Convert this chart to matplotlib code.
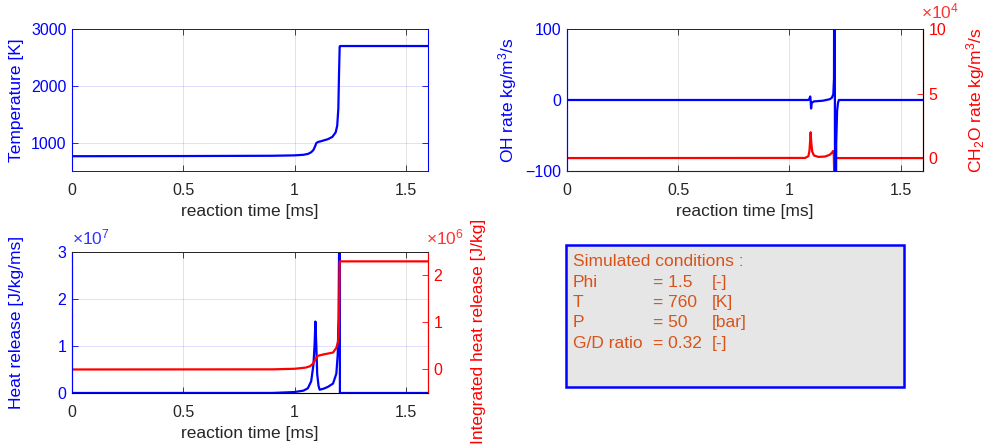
import matplotlib
matplotlib.use("Agg")
import matplotlib.pyplot as plt
from matplotlib.patches import Rectangle

plt.rcParams['font.family'] = ['Liberation Sans', 'DejaVu Sans']
plt.rcParams['mathtext.fontset'] = 'custom'
plt.rcParams['mathtext.rm'] = 'Liberation Sans'
plt.rcParams['mathtext.it'] = 'Liberation Sans'
plt.rcParams['mathtext.default'] = 'rm'

BLUE = (0, 0, 1)
RED = (1, 0, 0)
DARK = (0.15, 0.15, 0.15)
ORANGE = (0.85, 0.325, 0.098)

# temperature [K] vs reaction time [ms]
t_temp = [0, 0.5, 0.9, 1.0, 1.04, 1.06, 1.075, 1.085, 1.092, 1.098, 1.105, 1.12,
          1.15, 1.17, 1.185, 1.192, 1.197, 1.2, 1.203, 1.205, 1.6]
temp = [760, 763, 768, 775, 785, 800, 830, 870, 930, 990, 1010, 1025,
        1060, 1100, 1180, 1300, 1600, 2200, 2690, 2700, 2700]

# OH rate [kg/m3/s]
t_oh = [0, 1.085, 1.09, 1.093, 1.095, 1.097, 1.1, 1.11, 1.15, 1.18, 1.19, 1.197,
        1.2, 1.202, 1.204, 1.206, 1.21, 1.214, 1.218, 1.222, 1.6]
oh = [0, 0, 2, 5, 0, -12, -4, -2, -1, 1, 3, 8,
      30, 400, 0, -400, -60, -15, -4, 0, 0]

# CH2O rate [kg/m3/s]
t_ch2o = [0, 1.07, 1.085, 1.09, 1.093, 1.095, 1.098, 1.102, 1.11, 1.13, 1.16, 1.18,
          1.19, 1.196, 1.199, 1.202, 1.204, 1.207, 1.21, 1.6]
ch2o = [0, 100, 1500, 6000, 14000, 20000, 12000, 5000, 2000, 900, 1200, 2500,
        4000, 5500, 3000, -20000, -20000, -1000, 0, 0]

# heat release [J/kg/ms]
t_hrr = [0, 0.9, 1.0, 1.04, 1.06, 1.075, 1.085, 1.09, 1.094, 1.098, 1.102, 1.108,
         1.113, 1.13, 1.15, 1.173, 1.188, 1.194, 1.198, 1.201, 1.2035, 1.204, 1.6]
hrr = [0, 1e4, 2e5, 5e5, 1e6, 2.5e6, 6e6, 1e7, 1.52e7, 1e7, 4e6, 1.5e6,
       7e5, 9e5, 1.3e6, 2e6, 4.1e6, 8e6, 1.6e7, 3.5e7, 3.5e7, 0, 0]

# integrated heat release [J/kg]
t_ihr = [0, 0.9, 1.0, 1.05, 1.07, 1.08, 1.09, 1.097, 1.105, 1.13, 1.173, 1.188,
         1.195, 1.198, 1.2, 1.202, 1.203, 1.6]
ihr = [0, 3e3, 1.5e4, 4e4, 7e4, 1.1e5, 1.8e5, 2.5e5, 2.9e5, 3.2e5, 3.6e5, 4.6e5,
       5.8e5, 7.1e5, 1.0e6, 2.0e6, 2.3e6, 2.3e6]

xticks = [0, 0.5, 1, 1.5]
cond_names = ['Phi', 'T', 'P', 'G/D ratio']
cond_values = ['= 1.5', '= 760', '= 50', '= 0.32']
cond_units = ['[-]', '[K]', '[bar]', '[-]']

TICK_FS = 11.5
LABEL_FS = 12.5
EXP_FS = 12.5


def style_x(ax):
    ax.set_xlim(0, 1.6)
    ax.set_xticks(xticks)
    ax.set_xticklabels(['0', '0.5', '1', '1.5'])
    ax.tick_params(axis='x', direction='in', top=True, bottom=True, colors=DARK,
                   labelsize=TICK_FS, length=4, width=0.6, pad=9)
    ax.set_xlabel('reaction time [ms]', fontsize=LABEL_FS, color=DARK, labelpad=4)
    ax.xaxis.grid(True, color=DARK, alpha=0.15, lw=0.6)
    for s in ['top', 'bottom']:
        ax.spines[s].set_color(DARK)
        ax.spines[s].set_linewidth(0.7)


def style_y(ax, color, side):
    ax.tick_params(axis='y', direction='in', colors=color, labelsize=TICK_FS,
                   length=4, width=0.6, pad=4)
    ax.spines[side].set_color(color)
    ax.spines[side].set_linewidth(0.8)
    ax.yaxis.label.set_color(color)


def fmt(scale):
    return lambda v, p: '%g' % (v / scale)


fig = plt.figure(figsize=(9.88, 4.44), dpi=100)

# ---- temperature
ax1 = fig.add_axes([0.0729, 0.6149, 0.3603, 0.3198])
ax1.plot(t_temp, temp, color=BLUE, lw=1.6)
ax1.set_ylim(500, 3000)
ax1.set_yticks([1000, 2000, 3000])
ax1.set_ylabel('Temperature [K]', fontsize=LABEL_FS)
style_x(ax1)
style_y(ax1, BLUE, 'left')
ax1.tick_params(axis='y', right=True)
ax1.spines['right'].set_color(BLUE)
ax1.spines['right'].set_linewidth(0.8)
ax1.yaxis.grid(True, color=BLUE, alpha=0.15, lw=0.6)
ax1.yaxis.set_label_coords(-0.135, 0.5)

# ---- OH / CH2O rates
ax2 = fig.add_axes([0.5739, 0.6149, 0.3603, 0.3198])
ax2.plot(t_oh, oh, color=BLUE, lw=1.6, zorder=3)
ax2.set_ylim(-100, 100)
ax2.set_yticks([-100, 0, 100])
ax2.set_ylabel('OH rate kg/m$^3$/s', fontsize=LABEL_FS)
ax2.yaxis.set_label_coords(-0.135, 0.5)
style_x(ax2)
style_y(ax2, BLUE, 'left')
ax2b = ax2.twinx()
ax2b.plot(t_ch2o, ch2o, color=RED, lw=1.6)
ax2b.set_ylim(-1e4, 10e4)
ax2b.set_yticks([0, 5e4, 10e4])
ax2b.yaxis.set_major_formatter(plt.FuncFormatter(fmt(1e4)))
ax2b.set_ylabel('CH$_2$O rate kg/m$^3$/s', fontsize=LABEL_FS)
ax2b.yaxis.set_label_coords(1.115, 0.5)
style_y(ax2b, RED, 'right')
ax2b.spines['left'].set_color(BLUE)
ax2b.spines['top'].set_color(DARK)
ax2b.spines['top'].set_linewidth(0.7)
ax2.set_zorder(ax2b.get_zorder() + 1)
ax2.patch.set_visible(False)
ax2b.text(0.995, 1.05, '×10$^{4}$', transform=ax2b.transAxes, color=RED,
          fontsize=EXP_FS, ha='left', va='bottom', alpha=0.8)

# ---- heat release
ax3 = fig.add_axes([0.0729, 0.1149, 0.3603, 0.3176])
ax3.plot(t_hrr, hrr, color=BLUE, lw=1.6)
ax3.set_ylim(0, 3e7)
ax3.set_yticks([0, 1e7, 2e7, 3e7])
ax3.yaxis.set_major_formatter(plt.FuncFormatter(fmt(1e7)))
ax3.set_ylabel('Heat release [J/kg/ms]', fontsize=LABEL_FS)
ax3.yaxis.set_label_coords(-0.135, 0.5)
style_x(ax3)
style_y(ax3, BLUE, 'left')
ax3.yaxis.grid(True, color=BLUE, alpha=0.15, lw=0.6)
ax3.text(0.0, 1.035, '×10$^{7}$', transform=ax3.transAxes, color=BLUE,
         fontsize=EXP_FS, ha='left', va='bottom', alpha=0.8)
ax3b = ax3.twinx()
ax3b.plot(t_ihr, ihr, color=RED, lw=1.6)
ax3b.set_ylim(-0.5e6, 2.5e6)
ax3b.set_yticks([0, 1e6, 2e6])
ax3b.yaxis.set_major_formatter(plt.FuncFormatter(fmt(1e6)))
ax3b.set_ylabel('Integrated heat release [J/kg]', fontsize=LABEL_FS)
ax3b.yaxis.set_label_coords(1.12, 0.44)
style_y(ax3b, RED, 'right')
ax3b.spines['left'].set_color(BLUE)
ax3b.spines['top'].set_color(DARK)
ax3b.spines['top'].set_linewidth(0.7)
ax3b.text(0.995, 1.035, '×10$^{6}$', transform=ax3b.transAxes, color=RED,
          fontsize=EXP_FS, ha='left', va='bottom', alpha=0.8)

# ---- conditions box
box = Rectangle((0.5729, 0.1284), 0.3421, 0.3198, transform=fig.transFigure,
                facecolor=(0.9, 0.9, 0.9), edgecolor=BLUE, lw=1.8)
fig.patches.append(box)
y0 = 1 - 262 / 444
dy = 20.3 / 444
fig.text(573 / 988, y0, 'Simulated conditions :', color=ORANGE, fontsize=LABEL_FS,
         va='center')
for i in range(len(cond_names)):
    y = y0 - (i + 1) * dy
    fig.text(573 / 988, y, cond_names[i], color=ORANGE, fontsize=LABEL_FS, va='center')
    fig.text(653 / 988, y, cond_values[i], color=ORANGE, fontsize=LABEL_FS, va='center')
    fig.text(712 / 988, y, cond_units[i], color=ORANGE, fontsize=LABEL_FS, va='center')

fig.savefig('out.png', dpi=100)
